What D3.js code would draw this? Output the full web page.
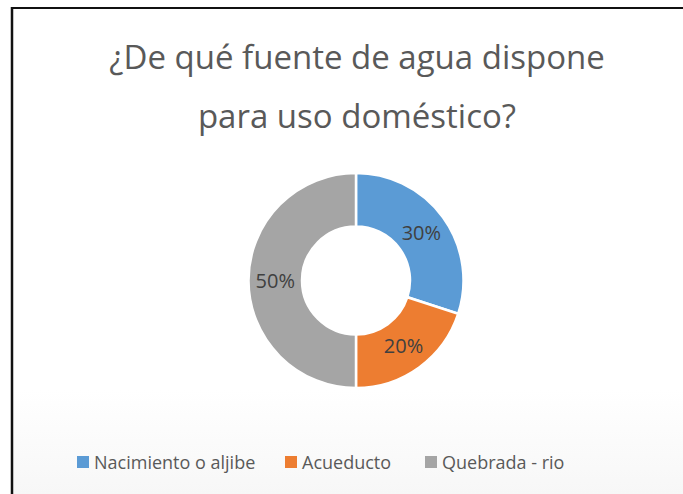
<!DOCTYPE html>
<html>
<head>
<meta charset="utf-8">
<script src="https://cdn.jsdelivr.net/npm/d3@7"></script>
<style>
  body { margin: 0; background: #fff; }
  svg text { font-family: "Open Sans", "Noto Sans", sans-serif; }
</style>
</head>
<body>
<div id="chart-area"></div>
<script>
// data
var categories = ["Nacimiento o aljibe", "Acueducto", "Quebrada - rio"];
var values = [30, 20, 50];
var colors = ["#5B9BD5", "#ED7D31", "#A5A5A5"];
var titleLines = ["¿De qué fuente de agua dispone", "para uso doméstico?"];

var W = 683, H = 494;
var cx = 356, cy = 280.5;
var outerR = 107.5, innerR = 54;

var svg = d3.select("#chart-area")
    .append("svg")
    .attr("width", W)
    .attr("height", H);

// background fade at bottom
var defs = svg.append("defs");
var grad = defs.append("linearGradient")
    .attr("id", "bg").attr("x1", 0).attr("y1", 0).attr("x2", 0).attr("y2", 1);
grad.append("stop").attr("offset", "0%").attr("stop-color", "#ffffff");
grad.append("stop").attr("offset", "100%").attr("stop-color", "#f7f7f7");
svg.append("rect")
    .attr("x", 13).attr("y", 390).attr("width", W - 13).attr("height", H - 390)
    .attr("fill", "url(#bg)");

// frame (only top & left visible)
svg.append("line").attr("x1", 11).attr("x2", W).attr("y1", 8).attr("y2", 8)
    .attr("stroke", "#111").attr("stroke-width", 2);
svg.append("line").attr("x1", 12).attr("x2", 12).attr("y1", 7).attr("y2", H)
    .attr("stroke", "#111").attr("stroke-width", 2.5);

// title
svg.selectAll(".title")
    .data(titleLines)
    .enter()
    .append("text")
    .attr("class", "title")
    .attr("x", cx + 1)
    .attr("y", function(d, i) { return 69 + i * 59; })
    .attr("text-anchor", "middle")
    .attr("font-size", "33px")
    .attr("fill", "#595959")
    .text(function(d) { return d; });

// donut
var pie = d3.pie().sort(null).value(function(d) { return d; });
var arc = d3.arc().innerRadius(innerR).outerRadius(outerR);
var labelArc = d3.arc().innerRadius((innerR + outerR) / 2).outerRadius((innerR + outerR) / 2);

var g = svg.append("g").attr("transform", "translate(" + cx + "," + cy + ")");
var arcs = pie(values);

g.selectAll("path")
    .data(arcs)
    .enter()
    .append("path")
    .attr("d", arc)
    .attr("fill", function(d, i) { return colors[i]; })
    .attr("stroke", "#fff")
    .attr("stroke-width", 2.5);

g.selectAll(".lbl")
    .data(arcs)
    .enter()
    .append("text")
    .attr("class", "lbl")
    .attr("transform", function(d) { return "translate(" + labelArc.centroid(d) + ")"; })
    .attr("dy", "0.36em")
    .attr("text-anchor", "middle")
    .attr("font-size", "20px")
    .attr("fill", "#404040")
    .text(function(d) { return d.data + "%"; });

// legend
var legendX = [77, 285, 425];
var leg = svg.selectAll(".leg")
    .data(categories)
    .enter()
    .append("g")
    .attr("class", "leg")
    .attr("transform", function(d, i) { return "translate(" + legendX[i] + ",456)"; });

leg.append("rect")
    .attr("width", 12).attr("height", 12)
    .attr("fill", function(d, i) { return colors[i]; });

leg.append("text")
    .attr("x", 17)
    .attr("y", 13)
    .attr("font-size", "18px")
    .attr("fill", "#595959")
    .text(function(d) { return d; });
</script>
</body>
</html>
